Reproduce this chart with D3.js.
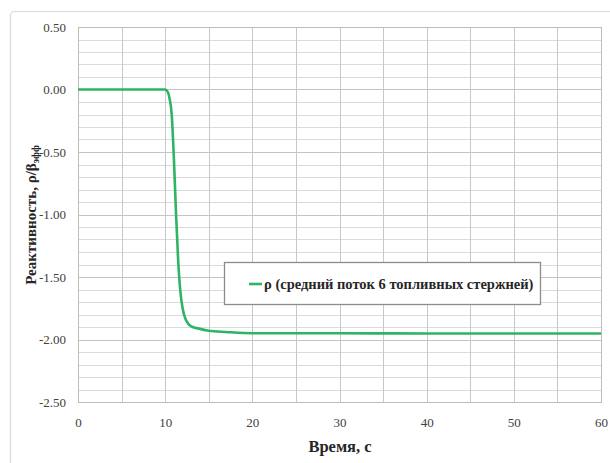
<!DOCTYPE html>
<html>
<head>
<meta charset="utf-8">
<script src="https://cdn.jsdelivr.net/npm/d3@7/dist/d3.min.js"></script>
<style>
  html, body { margin: 0; padding: 0; background: #fff; }
  svg { display: block; }
  .serif { font-family: "Liberation Serif", "Times New Roman", Tinos, "DejaVu Serif", serif; }
</style>
</head>
<body>
<svg id="chart" width="610" height="463"></svg>
<script>
// Reactivity response (in units of beta_eff) over time
const timeSec = [0, 5, 10, 10.3, 10.5, 10.75, 11, 11.25, 11.5, 11.75, 12, 12.3, 12.6, 13, 14, 15, 17, 20, 30, 40, 50, 60];
const reactivity = [0, 0, 0, -0.02, -0.07, -0.2, -0.55, -1.0, -1.38, -1.62, -1.75, -1.83, -1.87, -1.895, -1.915, -1.93, -1.94, -1.95, -1.95, -1.952, -1.952, -1.952];
const xTicks = [0, 10, 20, 30, 40, 50, 60];
const yTicks = [0.5, 0, -0.5, -1.0, -1.5, -2.0, -2.5];
const seriesName = "ρ (средний поток 6 топливных стержней)";
const xTitle = "Время, с";

const svg = d3.select("#chart");
const margin = { left: 78, right: 9, top: 27, bottom: 61 };
const W = 610, H = 463;
const x = d3.scaleLinear().domain([0, 60]).range([margin.left, W - margin.right]);
const y = d3.scaleLinear().domain([-2.5, 0.5]).range([H - margin.bottom, margin.top]);

// chart frame
svg.append("rect")
  .attr("x", 10.5).attr("y", 11.5).attr("width", 640).attr("height", 500)
  .attr("rx", 4).attr("fill", "#fff").attr("stroke", "#d9d9d9").attr("stroke-width", 1.2);

// horizontal grid every 0.1
const hGrid = d3.range(-25, 6).map(i => i / 10);
svg.append("g").selectAll("line").data(hGrid).join("line")
  .attr("x1", x(0)).attr("x2", x(60))
  .attr("y1", d => Math.round(y(d)) + 0.5).attr("y2", d => Math.round(y(d)) + 0.5)
  .attr("stroke", d => Math.abs(d * 2 - Math.round(d * 2)) < 1e-6 ? "#c4c4c4" : "#dadada")
  .attr("stroke-width", 1);

// vertical grid every 5 s
const vGrid = d3.range(0, 61, 5);
svg.append("g").selectAll("line").data(vGrid).join("line")
  .attr("x1", d => Math.round(x(d)) + 0.5).attr("x2", d => Math.round(x(d)) + 0.5)
  .attr("y1", y(0.5)).attr("y2", y(-2.5))
  .attr("stroke", "#c8c8c8").attr("stroke-width", 1);

// plot border
svg.append("rect")
  .attr("x", x(0) + 0.5).attr("y", y(0.5) + 0.5)
  .attr("width", x(60) - x(0)).attr("height", y(-2.5) - y(0.5))
  .attr("fill", "none").attr("stroke", "#bdbdbd");

// axes
const yAxis = d3.axisLeft(y).tickValues(yTicks).tickSize(0).tickPadding(12)
  .tickFormat(d => d3.format(".2f")(d).replace("−", "-"));
const gy = svg.append("g").attr("transform", `translate(${x(0)},0)`).call(yAxis);
gy.attr("font-family", null);
gy.select(".domain").remove();
gy.selectAll("text").attr("class", "serif").attr("font-size", 13).attr("fill", "#404040");

const xAxis = d3.axisBottom(x).tickValues(xTicks).tickFormat(d3.format("d")).tickSize(0).tickPadding(16);
const gx = svg.append("g").attr("transform", `translate(0,${y(-2.5)})`).call(xAxis);
gx.attr("font-family", null);
gx.select(".domain").remove();
gx.selectAll("text").attr("class", "serif").attr("font-size", 13).attr("fill", "#404040");

// axis titles
svg.append("text").attr("class", "serif")
  .attr("x", 340).attr("y", 452).attr("text-anchor", "middle")
  .attr("font-size", 16.5).attr("font-weight", "bold").attr("fill", "#262626")
  .text(xTitle);

const yt = svg.append("text").attr("class", "serif")
  .attr("transform", `translate(36,215) rotate(-90)`)
  .attr("text-anchor", "middle")
  .attr("font-size", 15).attr("font-weight", "bold").attr("fill", "#262626");
yt.append("tspan").text("Реактивность, ρ/β");
yt.append("tspan").attr("font-size", 10).attr("dy", 3).text("эфф");

// series line
const line = d3.line().x((d, i) => x(timeSec[i])).y(d => y(d)).curve(d3.curveMonotoneX);
svg.append("path")
  .attr("d", line(reactivity))
  .attr("fill", "none").attr("stroke", "#2fb466").attr("stroke-width", 2.6)
  .attr("stroke-linejoin", "round");

// legend
const lg = svg.append("g");
lg.append("rect").attr("x", 224.5).attr("y", 262.5).attr("width", 316).attr("height", 42)
  .attr("fill", "#fff").attr("stroke", "#8c8c8c").attr("stroke-width", 1.3);
lg.append("line").attr("x1", 249).attr("x2", 262).attr("y1", 284).attr("y2", 284)
  .attr("stroke", "#2fb466").attr("stroke-width", 2.6);
lg.append("text").attr("class", "serif").attr("x", 264).attr("y", 288.5)
  .attr("font-size", 14.5).attr("font-weight", "bold").attr("fill", "#262626")
  .text(seriesName);
</script>
</body>
</html>
